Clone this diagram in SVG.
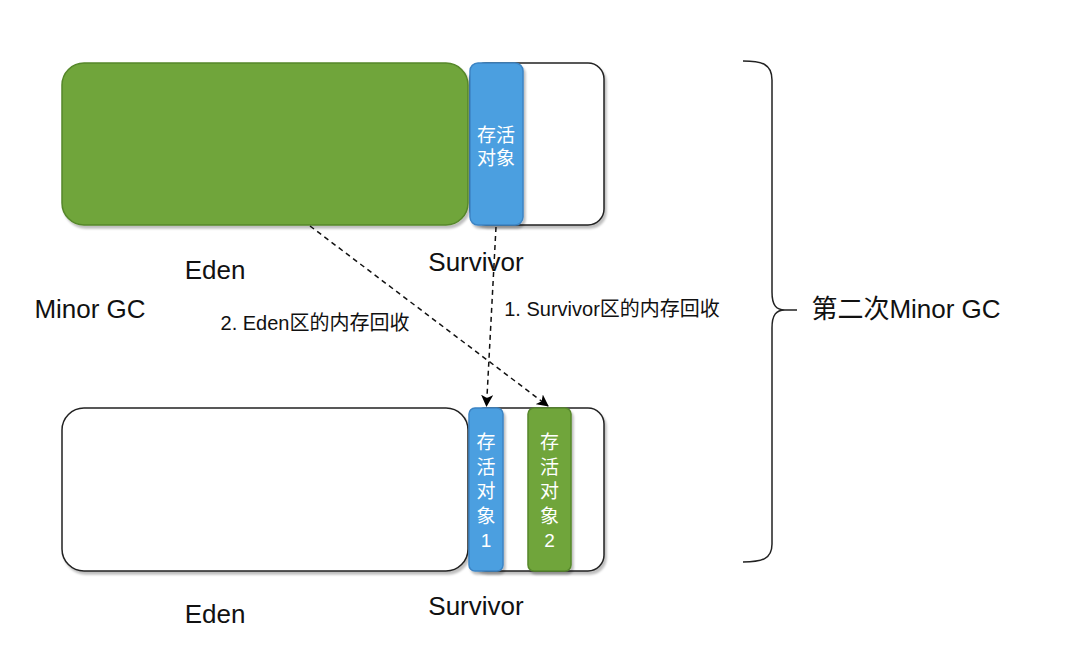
<svg xmlns="http://www.w3.org/2000/svg" width="1073" height="660" viewBox="0 0 1073 660">
  <defs>
    <filter id="sh" x="-10%" y="-10%" width="130%" height="130%">
      <feDropShadow dx="2" dy="3" stdDeviation="1" flood-color="#000" flood-opacity="0.25"/>
    </filter>
    <marker id="arr" viewBox="0 0 12 12" refX="11" refY="6" markerWidth="12" markerHeight="12" markerUnits="userSpaceOnUse" orient="auto">
      <path d="M0,0 L12,6 L0,12 L3,6 Z" fill="#000"/>
    </marker>
    <style>
      text { font-family: "Liberation Sans", Arial, "Noto Sans CJK SC", sans-serif; fill: #111; }
      .big { font-size: 26px; text-anchor: middle; }
      .lbl { font-size: 20px; text-anchor: middle; }
      .in { font-size: 19px; text-anchor: middle; fill: #fff; }
      .white { fill: #fff; stroke: #222; stroke-width: 1.5; filter: url(#sh); }
      .green { fill: #6fa53a; stroke: #56872a; stroke-width: 1.5; filter: url(#sh); }
      .blue { fill: #4c9fe0; stroke: #3b84c4; stroke-width: 1.5; filter: url(#sh); }
      .dash { fill: none; stroke: #111; stroke-width: 1.5; stroke-dasharray: 5 4; }
    </style>
  </defs>

  <g id="top-survivor">
    <rect class="white" x="470" y="63" width="134" height="162" rx="16"/>
  </g>
  <g id="top-eden">
    <rect class="green" x="62" y="63" width="406" height="162" rx="22"/>
  </g>
  <g id="top-live">
    <rect class="blue" x="470" y="63" width="53" height="162" rx="8"/>
    <text class="in" x="496" y="142">存活</text>
    <text class="in" x="496" y="165">对象</text>
  </g>

  <g id="bottom-survivor">
    <rect class="white" x="470" y="408" width="134" height="163" rx="16"/>
  </g>
  <g id="bottom-eden">
    <rect class="white" x="62" y="408" width="406" height="163" rx="22"/>
  </g>
  <g id="bottom-live1">
    <rect class="blue" x="469" y="408" width="34" height="163" rx="6"/>
    <text class="in" x="486" y="449">存</text>
    <text class="in" x="486" y="473.5">活</text>
    <text class="in" x="486" y="498">对</text>
    <text class="in" x="486" y="522.5">象</text>
    <text class="in" x="486" y="547">1</text>
  </g>
  <g id="bottom-live2">
    <rect class="green" x="528" y="408" width="43" height="163" rx="6"/>
    <text class="in" x="549.5" y="449">存</text>
    <text class="in" x="549.5" y="473.5">活</text>
    <text class="in" x="549.5" y="498">对</text>
    <text class="in" x="549.5" y="522.5">象</text>
    <text class="in" x="549.5" y="547">2</text>
  </g>

  <g id="labels">
    <text class="big" x="215" y="279">Eden</text>
    <text class="big" x="476" y="271">Survivor</text>
    <text class="big" x="90" y="318">Minor GC</text>
    <text class="big" x="215" y="623">Eden</text>
    <text class="big" x="476" y="615">Survivor</text>
    <text class="big" x="906" y="318">第二次Minor GC</text>
  </g>

  <g id="connectors">
    <path class="dash" d="M496,227 L486.5,406" marker-end="url(#arr)"/>
    <path class="dash" d="M310,226 L548,406" marker-end="url(#arr)"/>
    <text class="lbl" x="315" y="330">2. Eden区的内存回收</text>
    <text class="lbl" x="612" y="316">1. Survivor区的内存回收</text>
  </g>

  <g id="brace">
    <path d="M743,61 C762,61 772,64 772,80 L772,292 C772,305 776,310 785,310 C776,310 772,315 772,328 L772,544 C772,559 762,562 743,562 M785,310 L797,310" fill="none" stroke="#222" stroke-width="1.5"/>
  </g>
</svg>
